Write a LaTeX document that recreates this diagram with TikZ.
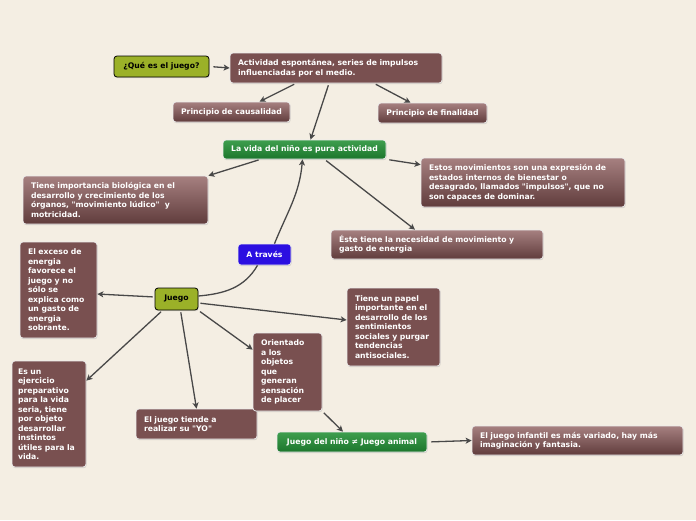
\documentclass[tikz,border=0pt]{standalone}
\usepackage{fontspec}
\setmainfont{DejaVu Sans}[Ligatures=TeXOff]
\usetikzlibrary{arrows.meta,shadows}
\definecolor{bgcream}{RGB}{244,238,227}
\definecolor{boxbrown}{RGB}{121,80,80}
\definecolor{boxtop}{RGB}{166,128,128}
\definecolor{boxbot}{RGB}{96,60,60}
\definecolor{greentop}{RGB}{62,158,78}
\definecolor{greenbot}{RGB}{28,118,44}
\definecolor{olive}{RGB}{155,177,40}
\definecolor{violetblue}{RGB}{43,15,225}
\definecolor{linkgray}{RGB}{72,72,72}
\begin{document}
\begin{tikzpicture}[x=1pt,y=-1pt,>={Stealth[length=6pt,width=6pt,inset=1.5pt]},font=\fontsize{7.7}{9.5}\selectfont\bfseries,
	box/.style={draw=white!85!gray,line width=0.7pt,rounded corners=3pt,text=white,align=left,inner xsep=8pt,inner ysep=4pt,drop shadow={opacity=0.25,shadow xshift=0.6pt,shadow yshift=-1.2pt}},
	plainbox/.style={box,fill=boxbrown},
	shadedbox/.style={box,top color=boxtop,bottom color=boxbot},
	greenbox/.style={box,top color=greentop,bottom color=greenbot,align=center},
	olivebox/.style={box,fill=olive,draw=black,line width=0.8pt,text=black,align=center},
	bluebox/.style={box,fill=violetblue,align=center},
	link/.style={->,draw=linkgray,line width=1.3pt,shorten <=2pt}]
	\fill[bgcream] (0,0) rectangle (696,520);
	\node[olivebox,minimum width=95pt,minimum height=21pt] (que) at (161.5,66.5) {¿Qué es el juego?};
	\node[plainbox,text width=196pt,minimum height=30pt] (act) at (336,68) {Actividad espontánea, series de impulsos\\influenciadas por el medio.};
	\node[shadedbox,minimum width=117pt,minimum height=20pt,align=center] (caus) at (231.5,112) {Principio de causalidad};
	\node[shadedbox,minimum width=109pt,minimum height=20pt,align=center] (fin) at (432.5,113) {Principio de finalidad};
	\node[greenbox,minimum width=163pt,minimum height=19pt] (vida) at (304.5,149.5) {La vida del niño es pura actividad};
	\node[shadedbox,text width=169pt,minimum height=48pt] (imp) at (115.5,200) {Tiene importancia biológica en el\\desarrollo y crecimiento de los\\órganos, "movimiento lúdico"\ \ y\\motricidad.};
	\node[shadedbox,text width=188pt,minimum height=49pt] (estos) at (523,182.5) {Estos movimientos son una expresión de\\estados internos de bienestar o\\desagrado, llamados "impulsos", que no\\son capaces de dominar.};
	\node[shadedbox,text width=196pt,minimum height=29pt] (este) at (437,244.5) {Éste tiene la necesidad de movimiento y\\gasto de energia};
	\node[bluebox,minimum width=53pt,minimum height=21pt] (atr) at (264.5,254.5) {A través};
	\node[olivebox,minimum width=43pt,minimum height=22pt] (juego) at (176.5,299) {Juego};
	\node[plainbox,text width=61pt,minimum height=96pt] (exc) at (58.5,290) {El exceso de\\energia\\favorece el\\juego y no\\sólo se\\explica como\\un gasto de\\energia\\sobrante.};
	\node[plainbox,text width=77pt,minimum height=78pt] (papel) at (393.5,327) {Tiene un papel\\importante en el\\desarrollo de los\\sentimientos\\sociales y purgar\\tendencias\\antisociales.};
	\node[plainbox,text width=62pt,minimum height=106pt,inner xsep=6pt] (ejer) at (49,414) {Es un\\ejercicio\\preparativo\\para la vida\\seria, tiene\\por objeto\\desarrollar\\instintos\\útiles para la\\vida.};
	\node[plainbox,text width=105pt,minimum height=30pt] (tiende) at (196.5,424) {El juego tiende a\\realizar su "YO"};
	\node[plainbox,text width=53pt,minimum height=78pt] (orient) at (287.5,372) {Orientado\\a los\\objetos\\que\\generan\\sensación\\de placer};
	\node[greenbox,minimum width=150pt,minimum height=20pt] (nino) at (352,442) {Juego del niño ≠ Juego animal};
	\node[shadedbox,text width=195pt,minimum height=29pt] (inf) at (577.5,440.5) {El juego infantil es más variado, hay más\\imaginación y fantasia.};
	\draw[link,shorten <=4pt] (que.east) -- (act.west);
	\draw[link] ([xshift=-40pt]act.south) -- ([xshift=28pt]caus.north);
	\draw[link] ([xshift=38pt]act.south) -- ([xshift=-22pt]fin.north);
	\draw[link] ([xshift=-7pt]act.south) -- ([xshift=6pt]vida.north);
	\draw[link] ([xshift=-44pt]vida.south) -- (imp.north east);
	\draw[link,shorten <=3pt] (vida.south east) -- ([yshift=-7pt]estos.north west);
	\draw[link] ([xshift=20pt]vida.south) -- ([xshift=-22pt]este.north);
	\draw[draw=linkgray,line width=1.3pt] ([yshift=3pt]juego.east) to[out=5,in=-120] ([xshift=-7pt]atr.south);
	\draw[link,shorten <=0pt] ([xshift=10pt]atr.north) to[out=68,in=-95] ([xshift=-2pt]vida.south);
	\draw[link] ([yshift=2pt]juego.west) -- ([yshift=-4pt]exc.east);
	\draw[link] ([yshift=-4pt]juego.east) -- ([yshift=7pt]papel.west);
	\draw[link] ([xshift=-14pt]juego.south) -- ([yshift=-20pt]ejer.north east);
	\draw[link] ([xshift=4pt]juego.south) -- (tiende.north);
	\draw[link] (juego.south east) -- ([yshift=-17pt]orient.north west);
	\draw[link] (orient.south east) -- ([xshift=-9pt]nino.north);
	\draw[link,shorten <=4pt] (nino.east) -- (inf.west);
\end{tikzpicture}
\end{document}
